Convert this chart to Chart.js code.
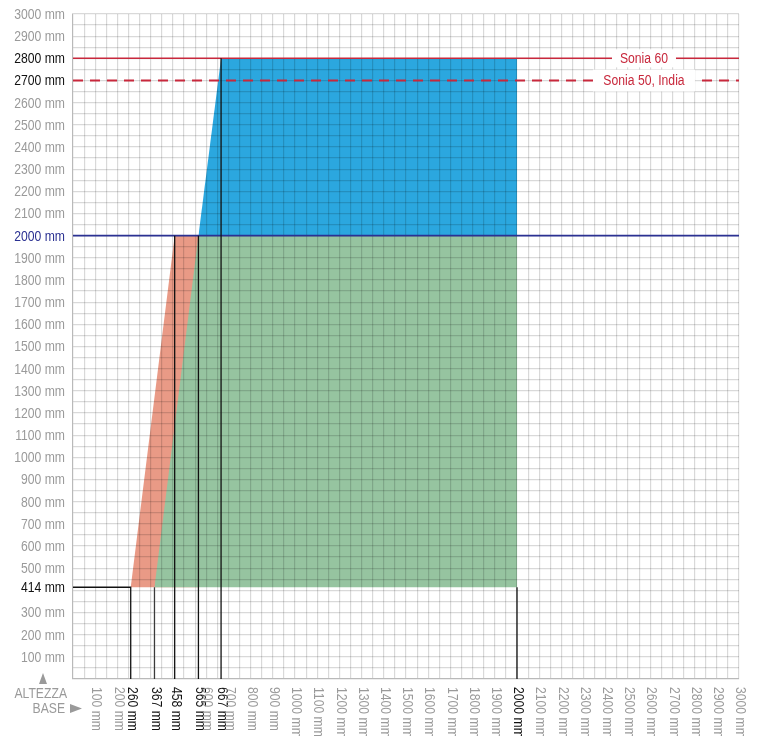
<!DOCTYPE html>
<html>
<head>
<meta charset="utf-8">
<script src="https://cdn.jsdelivr.net/npm/chart.js@4.4.1/dist/chart.umd.min.js"></script>
<style>
  html, body { margin: 0; padding: 0; background: #fff; }
  #wrap { width: 757px; height: 736px; position: relative; }
</style>
</head>
<body>
<div id="wrap"><canvas id="sizeChart"></canvas></div>
<script>
// Base widths and heights (mm)
const baseHeight = 414;
const baseMarks = [260, 367, 458, 565, 667, 2000];

// Filled areas: upper edge of each zone, filled down to its floor
const orangeEdge = [[260, 414], [458, 2000], [565, 2000]];
const greenEdge = [[367, 414], [565, 2000], [2000, 2000]];
const blueEdge = [[565, 2000], [667, 2800], [2000, 2800]];
const orangeFloor = 414;
const greenFloor = 414;
const blueFloor = 2000;

// Vertical guide lines: [x, top]
const guideLines = [[367, 414], [458, 2000], [565, 2000], [667, 2800], [2000, 414]];
const cornerLine = [[0, 414], [260, 414], [260, 0]];

// Reference lines across the chart
const navyLine = 2000;
const soniaLine60 = 2800;
const soniaLine50 = 2700;
const soniaLabels = ['Sonia 60', 'Sonia 50, India'];

// Axis tick labels
const xTickLabels = [100, 200, 260, 367, 458, 565, 600, 667, 700, 800, 900, 1000, 1100, 1200, 1300,
  1400, 1500, 1600, 1700, 1800, 1900, 2000, 2100, 2200, 2300, 2400, 2500, 2600, 2700, 2800, 2900, 3000];
const yTickLabels = [100, 200, 300, 414, 500, 600, 700, 800, 900, 1000, 1100, 1200, 1300, 1400, 1500,
  1600, 1700, 1800, 1900, 2000, 2100, 2200, 2300, 2400, 2500, 2600, 2700, 2800, 2900, 3000];

const FONT = '14px "Liberation Sans", Arial, sans-serif';
const NARROW = 0.87;
const GRAY = '#9a9a9a';
const DARK = '#111';
const RED = '#c8283c';
const NAVY = '#2b3192';
const GRID = 'rgba(0,0,0,0.15)';

const pts = arr => arr.map(p => ({ x: p[0], y: p[1] }));
const span = y => [{ x: 0, y: y }, { x: 3000, y: y }];

function gridValues() {
  const v = [];
  for (let i = 0; i <= 3000; i += 50) v.push(i);
  return v;
}

// condensed text: squeeze the glyphs horizontally
function narrowText(ctx, txt, x, y, align, rot) {
  ctx.save();
  ctx.translate(x, y);
  if (rot) ctx.rotate(rot);
  ctx.scale(NARROW, 1);
  ctx.textAlign = align;
  ctx.fillText(txt, 0, 0);
  ctx.restore();
}

const guideSets = guideLines.map(g => ({
  data: pts([[g[0], 0], [g[0], g[1]]]),
  borderColor: g[0] === 367 ? '#3a3a3a' : DARK,
  borderWidth: 1.3,
  pointRadius: 0,
  fill: false
}));

// Sonia labels sit on the red lines in a white box
const soniaLabelPlugin = {
  id: 'soniaLabels',
  afterDraw(chart) {
    const { ctx, scales: { x, y } } = chart;
    const cx = x.getPixelForValue(2572);
    const items = [[soniaLabels[0], soniaLine60, 64, 18], [soniaLabels[1], soniaLine50, 102, 22]];
    ctx.save();
    ctx.font = FONT;
    ctx.textBaseline = 'middle';
    items.forEach(([txt, val, w, h]) => {
      const py = y.getPixelForValue(val);
      ctx.fillStyle = '#fff';
      ctx.fillRect(cx - w / 2, py - h / 2, w, h);
      ctx.fillStyle = RED;
      narrowText(ctx, txt, cx, py + 1, 'center');
    });
    ctx.restore();
  }
};

// Axis labels: values on the left, rotated base widths below, captions in the corner
const axisLabelPlugin = {
  id: 'axisLabels',
  afterDraw(chart) {
    const { ctx, scales: { x, y } } = chart;
    ctx.save();
    ctx.font = FONT;
    ctx.textBaseline = 'middle';
    yTickLabels.forEach(v => {
      if (v === navyLine) ctx.fillStyle = NAVY;
      else if (v === soniaLine60 || v === soniaLine50 || v === baseHeight) ctx.fillStyle = DARK;
      else ctx.fillStyle = GRAY;
      narrowText(ctx, v + ' mm', 65, y.getPixelForValue(v) + 1, 'right');
    });
    const top = y.bottom + 8;
    xTickLabels.forEach(v => {
      ctx.fillStyle = baseMarks.includes(v) ? DARK : GRAY;
      narrowText(ctx, v + ' mm', x.getPixelForValue(v) + 1, top, 'left', Math.PI / 2);
    });
    ctx.fillStyle = GRAY;
    narrowText(ctx, 'ALTEZZA', 67, 694, 'right');
    narrowText(ctx, 'BASE', 65, 709, 'right');
    ctx.beginPath();
    ctx.moveTo(39, 684); ctx.lineTo(43, 673); ctx.lineTo(47, 684); ctx.closePath();
    ctx.fill();
    ctx.beginPath();
    ctx.moveTo(70, 704); ctx.lineTo(82, 708.5); ctx.lineTo(70, 713); ctx.closePath();
    ctx.fill();
    ctx.restore();
  }
};

const ctx = document.getElementById('sizeChart').getContext('2d');
const sizeChart = new Chart(ctx, {
  type: 'line',
  data: {
    datasets: [
      { data: pts(cornerLine), borderColor: DARK, borderWidth: 1.3, pointRadius: 0, fill: false },
      ...guideSets,
      { data: span(soniaLine60), borderColor: RED, borderWidth: 1.5, pointRadius: 0, fill: false },
      { data: span(soniaLine50), borderColor: RED, borderWidth: 2, borderDash: [10, 7], pointRadius: 0, fill: false },
      { data: span(navyLine), borderColor: NAVY, borderWidth: 1.6, pointRadius: 0, fill: false },
      { data: pts(blueEdge), borderWidth: 0, pointRadius: 0, backgroundColor: '#2ba7df', fill: { value: blueFloor } },
      { data: pts(greenEdge), borderWidth: 0, pointRadius: 0, backgroundColor: '#96c4a0', fill: { value: greenFloor } },
      { data: pts(orangeEdge), borderWidth: 0, pointRadius: 0, backgroundColor: '#e99a86', fill: { value: orangeFloor } }
    ]
  },
  plugins: [axisLabelPlugin, soniaLabelPlugin],
  options: {
    responsive: true,
    maintainAspectRatio: false,
    animation: false,
    layout: { padding: { top: 14, right: 18, left: 0, bottom: 0 } },
    plugins: {
      legend: { display: false },
      tooltip: { enabled: false },
      // areas go down first so the grid shows through them
      filler: { drawTime: 'beforeDraw' }
    },
    elements: { line: { tension: 0 } },
    scales: {
      x: {
        type: 'linear',
        min: 0,
        max: 3000,
        afterBuildTicks: s => { s.ticks = gridValues().map(v => ({ value: v })); },
        afterFit: s => { s.height = 57; },
        grid: { color: GRID, lineWidth: 1.2, drawTicks: false },
        border: { color: GRID, width: 1.2 },
        ticks: { display: false }
      },
      y: {
        type: 'linear',
        min: 0,
        max: 3000,
        afterBuildTicks: s => { s.ticks = gridValues().map(v => ({ value: v })); },
        afterFit: s => { s.width = 73; },
        grid: { color: GRID, lineWidth: 1.2, drawTicks: false },
        border: { color: GRID, width: 1.2 },
        ticks: { display: false }
      }
    }
  }
});
</script>
</body>
</html>
